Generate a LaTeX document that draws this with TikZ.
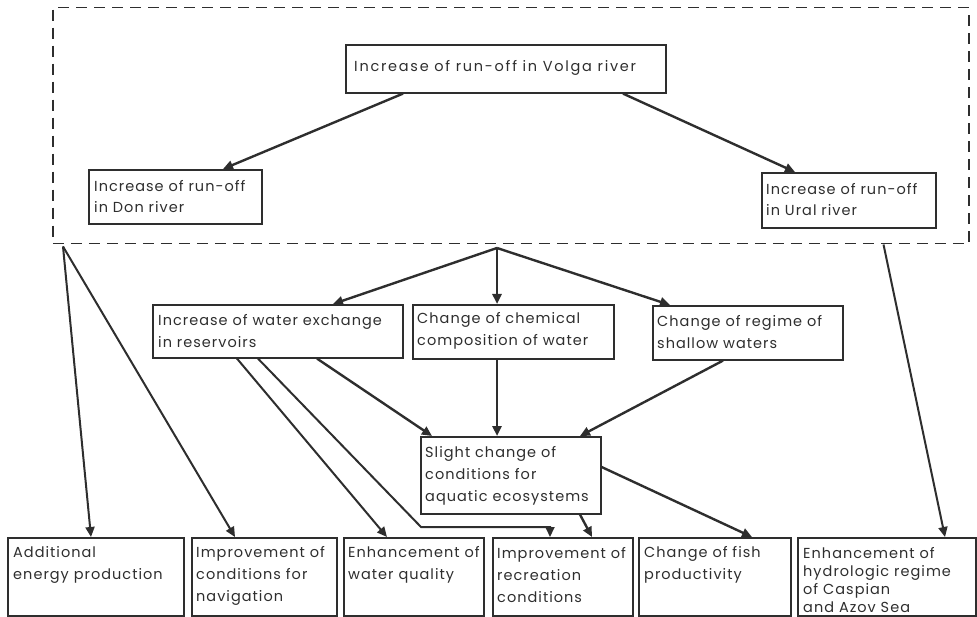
\documentclass[tikz,border=0pt]{standalone}
\usepackage{fontspec}
\setmainfont{Poppins}[LetterSpace=7]
\usetikzlibrary{arrows.meta}
\definecolor{ink}{gray}{0.18}
\tikzset{
  box/.style={draw=ink, line width=1.6pt, rectangle, inner sep=0pt, anchor=north west},
  framebox/.style={draw=ink, line width=1.5pt, dash pattern=on 11pt off 7pt, rectangle, inner sep=0pt, anchor=north west},
  txt/.style={anchor=west, align=left, inner sep=0pt, text=ink, font=\fontsize{14.5}{22}\selectfont},
  arr/.style={draw=ink, line width=2.4pt, -{Triangle[length=10pt,width=9pt]}},
  thinarr/.style={draw=ink, line width=2pt, -{Triangle[length=10pt,width=9pt]}}
}
\begin{document}
\begin{tikzpicture}[x=1pt,y=-1pt]
\useasboundingbox (0,0) rectangle (977,617);
% frame
\node[framebox, minimum width=916, minimum height=236] (frame) at (52,7) {};
% top boxes
\node[box, minimum width=320, minimum height=48] (volga) at (345,44) {};
\node[txt, font=\addfontfeatures{LetterSpace=12}\fontsize{14.5}{22}\selectfont] (volgat) at (354,68) {Increase of run-off in Volga river};
\node[box, minimum width=173, minimum height=54] (don) at (88,169) {};
\node[txt, font=\fontsize{14.5}{21}\selectfont] (dont) at (94,196.5) {Increase of run-off\\in Don river};
\node[box, minimum width=174, minimum height=55] (ural) at (761,172) {};
\node[txt, font=\fontsize{14.5}{21}\selectfont] (uralt) at (766,200) {Increase of run-off\\in Ural river};
% middle boxes
\node[box, minimum width=250, minimum height=53] (wx) at (152,304) {};
\node[txt] (wxt) at (158,331) {Increase of water exchange\\in reservoirs};
\node[box, minimum width=201, minimum height=54] (chem) at (412,304) {};
\node[txt] (chemt) at (417,331) {Change of chemical\\composition of water};
\node[box, minimum width=190, minimum height=54] (shallow) at (652,305) {};
\node[txt] (shallowt) at (657,332) {Change of regime of\\shallow waters};
\node[box, minimum width=180, minimum height=77] (slight) at (420,436) {};
\node[txt] (slightt) at (425,476) {Slight change of\\conditions for\\aquatic ecosystems};
% bottom boxes
\node[box, minimum width=176, minimum height=78] (energy) at (7,537) {};
\node[txt] (energyt) at (13,564.5) {Additional\\energy production};
\node[box, minimum width=145, minimum height=78] (nav) at (191,537) {};
\node[txt] (navt) at (196,575.5) {Improvement of\\conditions for\\navigation};
\node[box, minimum width=140, minimum height=78] (wq) at (343,537) {};
\node[txt] (wqt) at (348,564.5) {Enhancement of\\water quality};
\node[box, minimum width=140, minimum height=78] (rec) at (492,537) {};
\node[txt] (rect) at (497,575.5) {Improvement of\\recreation\\conditions};
\node[box, minimum width=152, minimum height=78] (fish) at (638,537) {};
\node[txt] (fisht) at (644,564.5) {Change of fish\\productivity};
\node[box, minimum width=178, minimum height=78] (hydro) at (797,537) {};
\node[txt, font=\fontsize{14.5}{18}\selectfont] (hydrot) at (803,580) {Enhancement of\\hydrologic regime\\of Caspian\\and Azov Sea};
% helper coordinates
\coordinate (J) at (497,248);
\coordinate (C) at ([xshift=11,yshift=-2]frame.south west);
\coordinate (K) at (421,527);
% connectors
\draw[arr] ([xshift=58]volga.south west) -- ([xshift=135]don.north west);
\draw[arr] ([xshift=278]volga.south west) -- ([xshift=34]ural.north west);
\draw[arr] (J) -- ([xshift=181]wx.north west);
\draw[arr] (J) -- ([xshift=85]chem.north west);
\draw[arr] (J) -- ([xshift=18]shallow.north west);
\draw[thinarr] (C) -- ([xshift=84]energy.north west);
\draw[thinarr] (C) -- ([xshift=44]nav.north west);
\draw[thinarr] ([xshift=85]wx.south west) -- ([xshift=44]wq.north west);
\draw[thinarr] ([xshift=106]wx.south west) -- (K) -| ([xshift=58]rec.north west);
\draw[arr] ([xshift=165]wx.south west) -- ([xshift=12]slight.north west);
\draw[arr] ([xshift=85]chem.south west) -- ([xshift=77]slight.north west);
\draw[arr] ([xshift=71]shallow.south west) -- ([xshift=160]slight.north west);
\draw[arr] ([xshift=160]slight.south west) -- ([xshift=100]rec.north west);
\draw[arr] ([yshift=-31]slight.north east) -- ([xshift=114]fish.north west);
\draw[thinarr] ([xshift=-86]frame.south east) -- ([xshift=148]hydro.north west);
\end{tikzpicture}
\end{document}
